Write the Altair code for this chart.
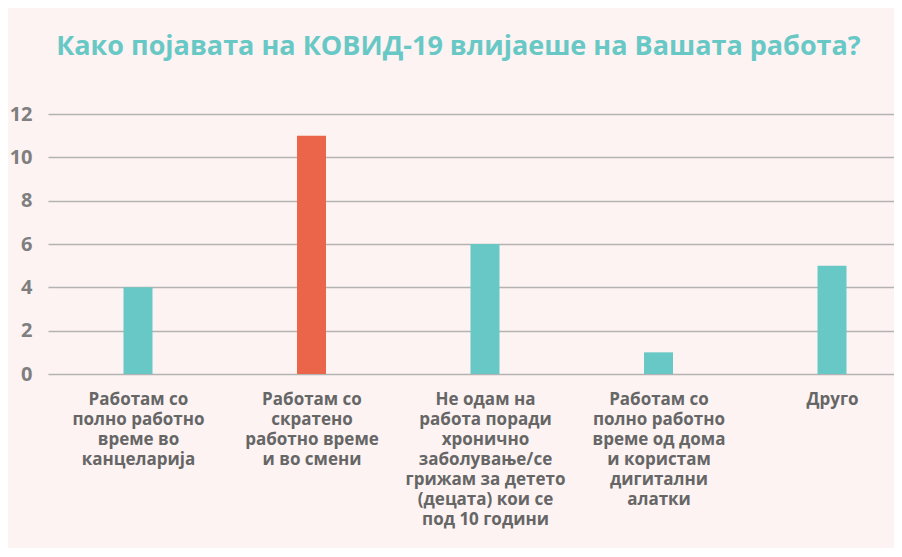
import json
import altair as alt
import pandas as pd

categories = [
    "Работам со\nполно работно\nвреме во\nканцеларија",
    "Работам со\nскратено\nработно време\nи во смени",
    "Не одам на\nработа поради\nхронично\nзаболување/се\nгрижам за детето\n(децата) кои се\nпод 10 години",
    "Работам со\nполно работно\nвреме од дома\nи користам\nдигитални\nалатки",
    "Друго",
]
values = [4, 11, 6, 1, 5]
y_ticks = [0, 2, 4, 6, 8, 10, 12]
title_text = "Како појавата на КОВИД-19 влијаеше на Вашата работа?"

positions = list(range(len(categories)))
df = pd.DataFrame({"pos": positions, "category": categories, "value": values})
top = max(values)

TEAL = "#68c8c5"
ORANGE = "#ea6549"
BG = "#fcf3f2"
FONT = "Open Sans"

label_array = json.dumps(categories, ensure_ascii=False)
label_expr = f"split({label_array}[datum.value], '\\n')"

chart = (
    alt.Chart(df)
    .mark_bar(size=29)
    .encode(
        x=alt.X(
            "pos:Q",
            scale=alt.Scale(domain=[-0.5187, 4.3573], nice=False, zero=False, padding=0),
            axis=alt.Axis(
                title=None,
                values=positions,
                labelAngle=0,
                labelExpr=label_expr,
                labelBaseline="top",
                labelAlign="center",
                labelLineHeight=20,
                labelFontSize=17,
                labelFont=FONT,
                labelFontWeight="bold",
                labelColor="#666666",
                labelPadding=17,
                labelLimit=0,
                labelOverlap=False,
                labelFlush=False,
                labelBound=False,
                ticks=False,
                domain=False,
                grid=False,
            ),
        ),
        y=alt.Y(
            "value:Q",
            scale=alt.Scale(domain=[0, 12], nice=False, padding=0),
            axis=alt.Axis(
                title=None,
                values=y_ticks,
                ticks=False,
                domain=False,
                grid=True,
                gridColor="#b3b3b3",
                gridWidth=1.5,
                labelFontSize=20,
                labelFont=FONT,
                labelFontWeight="bold",
                labelColor="#7f7f7f",
                labelPadding=16,
            ),
        ),
        color=alt.condition(alt.datum.value == top, alt.value(ORANGE), alt.value(TEAL)),
    )
    .properties(
        width=846,
        height=260,
        padding={"left": 40, "top": 106, "right": 0, "bottom": 174},
        autosize=alt.AutoSizeParams(type="none"),
        background=BG,
        title=alt.TitleParams(
            text=title_text,
            anchor="start",
            dx=47,
            offset=43,
            fontSize=27,
            font=FONT,
            fontWeight="bold",
            color="#68c8c5",
        ),
    )
    .configure_view(stroke=None)
)

chart.save("out.html", embed_options={"renderer": "svg", "actions": False})
